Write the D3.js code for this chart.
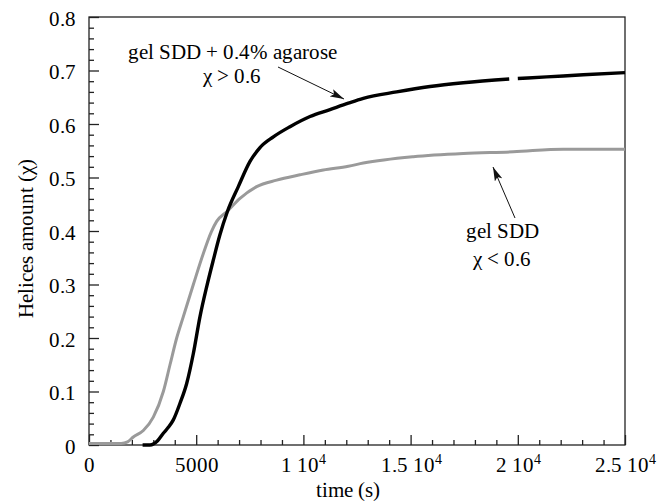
<!DOCTYPE html>
<html>
<head>
<meta charset="utf-8">
<script src="https://cdn.jsdelivr.net/npm/d3@7/dist/d3.min.js"></script>
<style>
@font-face {
  font-family: "ChartSerif";
  src: local("Liberation Serif"), local("LiberationSerif"), local("LiberationSerif-Regular");
}
</style>
</head>
<body style="margin:0">
<svg id="chart" width="672" height="502" font-family="ChartSerif, Liberation Serif"></svg>
<script>
// ---- data ----
const agaroseTime = [2500, 2845, 3200, 3467, 3700, 3933, 4244, 4556, 4867, 5177, 5490, 5800, 6100, 6452, 6965, 7510, 7975, 8598, 9375, 10308, 11240, 12095, 12795, 14350, 15905, 17460, 19600, null, 20000, 21348, 23055, 25000];
const agaroseChi  = [0, 0, 0.008, 0.022, 0.033, 0.047, 0.078, 0.115, 0.171, 0.240, 0.296, 0.346, 0.392, 0.436, 0.483, 0.530, 0.556, 0.576, 0.595, 0.614, 0.627, 0.639, 0.648, 0.660, 0.670, 0.677, 0.684, null, 0.685, 0.688, 0.692, 0.696];

const sddTime = [0, 500, 1000, 1500, 1800, 2067, 2534, 3000, 3467, 3778, 4090, 4400, 4867, 5333, 5700, 5955, 6452, 7043, 7820, 8753, 9841, 10930, 12095, 12795, 15127, 17460, 19790, 22122, 25000];
const sddChi  = [0.003, 0.003, 0.003, 0.003, 0.006, 0.015, 0.027, 0.052, 0.100, 0.150, 0.200, 0.240, 0.300, 0.358, 0.398, 0.418, 0.437, 0.461, 0.483, 0.495, 0.505, 0.514, 0.521, 0.527, 0.539, 0.545, 0.548, 0.553, 0.553];

const xMajorTicks = [0, 5000, 10000, 15000, 20000, 25000];
const xTickMantissa = ["0", "5000", "1", "1.5", "2", "2.5"];
const yMajorTicks = [0, 0.1, 0.2, 0.3, 0.4, 0.5, 0.6, 0.7, 0.8];
const yTickLabels = ["0", "0.1", "0.2", "0.3", "0.4", "0.5", "0.6", "0.7", "0.8"];

const xLabel = "time (s)";
const yLabel = "Helices amount (χ)";
const annAgarose = ["gel SDD + 0.4% agarose", "χ > 0.6"];
const annSdd = ["gel SDD", "χ < 0.6"];

// ---- layout ----
const FONT = "ChartSerif, Liberation Serif";
const svg = d3.select("#chart");
const m = {left: 89, top: 17, right: 625, bottom: 445};
const x = d3.scaleLinear().domain([0, 25000]).range([m.left, m.right]);
const y = d3.scaleLinear().domain([0, 0.8]).range([m.bottom, m.top]);
const FS = 21;

function addText(parent, str) {
  return parent.append("text").attr("font-family", FONT).attr("font-size", FS).text(str);
}

// frame
svg.append("rect").attr("x", m.left).attr("y", m.top)
  .attr("width", m.right - m.left).attr("height", m.bottom - m.top)
  .attr("fill", "none").attr("stroke", "#222").attr("stroke-width", 1.3);

// minor ticks
const xMinor = d3.range(0, 25001, 1000).filter(v => v % 5000 !== 0);
const yMinor = d3.range(0, 41, 1).map(v => v * 0.02).filter((v, i) => i % 5 !== 0);

svg.append("g").attr("transform", `translate(0,${m.bottom})`)
  .call(d3.axisBottom(x).tickValues(xMinor).tickSize(-5).tickFormat(""))
  .call(g => g.select(".domain").remove())
  .call(g => g.selectAll("text").remove())
  .call(g => g.selectAll("line").attr("stroke", "#222").attr("stroke-width", 1.3));
svg.append("g").attr("transform", `translate(${m.left},0)`)
  .call(d3.axisLeft(y).tickValues(yMinor).tickSize(-5).tickFormat(""))
  .call(g => g.select(".domain").remove())
  .call(g => g.selectAll("text").remove())
  .call(g => g.selectAll("line").attr("stroke", "#222").attr("stroke-width", 1.3));

// major x axis
const gx = svg.append("g").attr("transform", `translate(0,${m.bottom})`)
  .call(d3.axisBottom(x).tickValues(xMajorTicks).tickSize(-10).tickFormat(""))
  .call(g => g.select(".domain").remove())
  .call(g => g.selectAll("text").remove())
  .call(g => g.selectAll("line").attr("stroke", "#222").attr("stroke-width", 1.3));
gx.selectAll(".tick").each(function(d, i) {
  const t = addText(d3.select(this), null).attr("y", 27).attr("text-anchor", "middle");
  if (d >= 10000) {
    t.append("tspan").text(xTickMantissa[i] + " 10");
    t.append("tspan").attr("font-size", 14).attr("dy", "-0.55em").text("4");
  } else {
    t.text(xTickMantissa[i]);
  }
});

// major y axis
const gy = svg.append("g").attr("transform", `translate(${m.left},0)`)
  .call(d3.axisLeft(y).tickValues(yMajorTicks).tickSize(-10).tickFormat(""))
  .call(g => g.select(".domain").remove())
  .call(g => g.selectAll("text").remove())
  .call(g => g.selectAll("line").attr("stroke", "#222").attr("stroke-width", 1.3));
gy.selectAll(".tick").each(function(d, i) {
  addText(d3.select(this), yTickLabels[i]).attr("x", -13).attr("dy", "0.4em").attr("text-anchor", "end");
});
svg.selectAll("g").attr("font-family", FONT).attr("fill", null);

// axis titles
addText(svg, xLabel).attr("x", 348).attr("y", 497).attr("text-anchor", "middle");
addText(svg, yLabel).attr("transform", "translate(33,238) rotate(-90)").attr("text-anchor", "middle");

// curves
const line = d3.line()
  .defined(d => d[0] !== null && d[1] !== null)
  .x(d => x(d[0])).y(d => y(d[1]))
  .curve(d3.curveMonotoneX);

svg.append("path").datum(sddTime.map((t, i) => [t, sddChi[i]]))
  .attr("d", line).attr("fill", "none").attr("stroke", "#9a9a9a").attr("stroke-width", 3);
svg.append("path").datum(agaroseTime.map((t, i) => [t, agaroseChi[i]]))
  .attr("d", line).attr("fill", "none").attr("stroke", "#000").attr("stroke-width", 3.4);

// arrow marker
svg.append("defs").append("marker").attr("id", "arr")
  .attr("viewBox", "0 0 14 8").attr("refX", 14).attr("refY", 4)
  .attr("markerWidth", 14).attr("markerHeight", 8).attr("markerUnits", "userSpaceOnUse")
  .attr("orient", "auto")
  .append("path").attr("d", "M0,0 L14,4 L0,8 L3,4 Z").attr("fill", "#111");

// annotations
addText(svg, annAgarose[0]).attr("x", 232).attr("y", 59).attr("text-anchor", "middle");
addText(svg, annAgarose[1]).attr("x", 232).attr("y", 83).attr("text-anchor", "middle");
svg.append("line").attr("x1", 278).attr("y1", 67).attr("x2", 344).attr("y2", 99)
  .attr("stroke", "#111").attr("stroke-width", 1).attr("marker-end", "url(#arr)");

addText(svg, annSdd[0]).attr("x", 502).attr("y", 238).attr("text-anchor", "middle");
addText(svg, annSdd[1]).attr("x", 502).attr("y", 266).attr("text-anchor", "middle");
svg.append("line").attr("x1", 515).attr("y1", 218).attr("x2", 493).attr("y2", 167)
  .attr("stroke", "#111").attr("stroke-width", 1).attr("marker-end", "url(#arr)");
</script>
</body>
</html>
